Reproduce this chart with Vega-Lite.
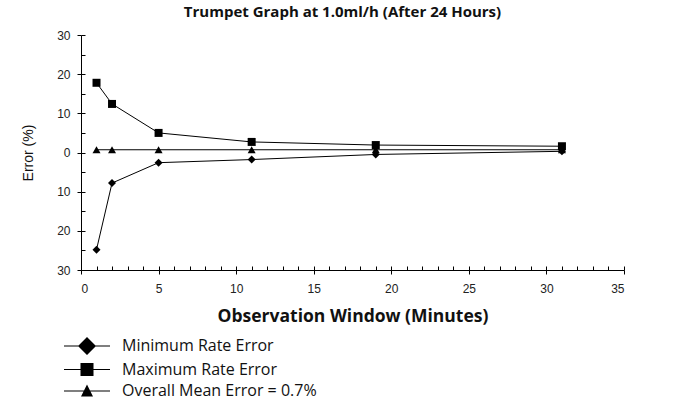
{
  "$schema": "https://vega.github.io/schema/vega-lite/v6.json",
  "autosize": {"type": "none"},
  "padding": {"left": 81, "top": 35, "right": 61, "bottom": 135},
  "width": 543,
  "height": 235,
  "background": "white",
  "title": {
    "text": "Trumpet Graph at 1.0ml/h (After 24 Hours)",
    "font": "Open Sans",
    "fontSize": 15,
    "fontWeight": "bold",
    "color": "#111",
    "anchor": "middle",
    "dx": -10,
    "offset": 9
  },
  "config": {
    "view": {"stroke": null},
    "axis": {
      "domainColor": "black",
      "tickColor": "black",
      "labelColor": "#222",
      "labelFont": "Liberation Sans",
      "labelFontSize": 12,
      "grid": false
    }
  },
  "data": {
    "values": [
      {"series": "Minimum Rate Error", "minutes": 1, "error": -24.8},
      {"series": "Minimum Rate Error", "minutes": 2, "error": -7.8},
      {"series": "Minimum Rate Error", "minutes": 5, "error": -2.6},
      {"series": "Minimum Rate Error", "minutes": 11, "error": -1.8},
      {"series": "Minimum Rate Error", "minutes": 19, "error": -0.5},
      {"series": "Minimum Rate Error", "minutes": 31, "error": 0.3},
      {"series": "Maximum Rate Error", "minutes": 1, "error": 17.8},
      {"series": "Maximum Rate Error", "minutes": 2, "error": 12.4},
      {"series": "Maximum Rate Error", "minutes": 5, "error": 5.0},
      {"series": "Maximum Rate Error", "minutes": 11, "error": 2.7},
      {"series": "Maximum Rate Error", "minutes": 19, "error": 1.9},
      {"series": "Maximum Rate Error", "minutes": 31, "error": 1.6},
      {"series": "Overall Mean Error = 0.7%", "minutes": 1, "error": 0.7},
      {"series": "Overall Mean Error = 0.7%", "minutes": 2, "error": 0.7},
      {"series": "Overall Mean Error = 0.7%", "minutes": 5, "error": 0.7},
      {"series": "Overall Mean Error = 0.7%", "minutes": 11, "error": 0.7},
      {"series": "Overall Mean Error = 0.7%", "minutes": 19, "error": 0.7},
      {"series": "Overall Mean Error = 0.7%", "minutes": 31, "error": 0.7}
    ]
  },
  "resolve": {"axis": {"x": "independent", "y": "independent"}, "scale": {"shape": "independent"}},
  "layer": [
    {
      "mark": {"type": "line", "color": "black", "strokeWidth": 1},
      "encoding": {
        "x": {
          "field": "minutes", "type": "quantitative",
          "scale": {"domain": [0, 35], "nice": false, "zero": false},
          "axis": {
            "orient": "bottom",
            "values": [0, 5, 10, 15, 20, 25, 30, 35],
            "tickSize": 4,
            "labelPadding": 9,
            "title": "Observation Window (Minutes)",
            "titleFont": "Open Sans",
            "titleFontSize": 17.5,
            "titleFontWeight": "bold",
            "titleColor": "#111",
            "titlePadding": 13
          }
        },
        "y": {
          "field": "error", "type": "quantitative",
          "scale": {"domain": [-30, 30], "nice": false, "zero": false},
          "axis": {
            "orient": "left",
            "values": [-30, -20, -10, 0, 10, 20, 30],
            "labelExpr": "abs(datum.value) + ''",
            "tickSize": 4,
            "labelPadding": 7,
            "title": "Error (%)",
            "titleFont": "Liberation Sans",
            "titleFontSize": 14,
            "titleFontWeight": "normal",
            "titleColor": "#111",
            "titlePadding": 21
          }
        },
        "detail": {"field": "series"}
      }
    },
    {
      "mark": {"type": "point", "filled": true, "color": "black", "opacity": 1, "size": 64},
      "encoding": {
        "x": {
          "field": "minutes", "type": "quantitative",
          "axis": {
            "orient": "bottom",
            "values": [0,1,2,3,4,5,6,7,8,9,10,11,12,13,14,15,16,17,18,19,20,21,22,23,24,25,26,27,28,29,30,31,32,33,34,35],
            "offset": -4,
            "tickSize": 4,
            "labels": false,
            "domain": false,
            "title": null
          }
        },
        "y": {
          "field": "error", "type": "quantitative",
          "axis": {
            "orient": "left",
            "values": [-30, -25, -20, -15, -10, -5, 0, 5, 10, 15, 20, 25, 30],
            "offset": -4,
            "tickSize": 4,
            "labels": false,
            "domain": false,
            "title": null
          }
        },
        "shape": {
          "field": "series", "type": "nominal",
          "scale": {
            "domain": ["Minimum Rate Error", "Maximum Rate Error", "Overall Mean Error = 0.7%"],
            "range": ["diamond", "square", "triangle-up"]
          },
          "legend": null
        }
      }
    },
    {
      "mark": {"type": "point", "filled": true, "color": "black", "opacity": 0, "size": 100},
      "encoding": {
        "x": {
          "field": "minutes", "type": "quantitative",
          "axis": {"orient": "bottom", "domain": false, "ticks": false, "labels": false, "title": null}
        },
        "y": {
          "field": "error", "type": "quantitative",
          "axis": {"orient": "left", "domain": false, "ticks": false, "labels": false, "title": null}
        },
        "shape": {
          "field": "series", "type": "nominal",
          "scale": {
            "domain": ["Minimum Rate Error", "Maximum Rate Error", "Overall Mean Error = 0.7%"],
            "range": [
              "M-4.6,-0.1H4.6V0.1H-4.6ZM-1.8,0L0,-1.8L1.8,0L0,1.8Z",
              "M-4.6,-0.1H4.6V0.1H-4.6ZM-1.3,-1.3H1.3V1.3H-1.3Z",
              "M-4.6,-0.1H4.6V0.1H-4.6ZM-1.2,1.1L0,-1.3L1.2,1.1Z"
            ]
          },
          "legend": {
            "orient": "none",
            "legendX": -2,
            "legendY": 303,
            "title": null,
            "padding": 0,
            "symbolSize": 100,
            "symbolOpacity": 1,
            "symbolFillColor": "black",
            "labelFont": "Open Sans",
            "labelFontSize": 16,
            "labelColor": "#111",
            "labelOffset": 27,
            "labelLimit": 0,
            "rowPadding": 1.5
          }
        }
      }
    }
  ]
}
